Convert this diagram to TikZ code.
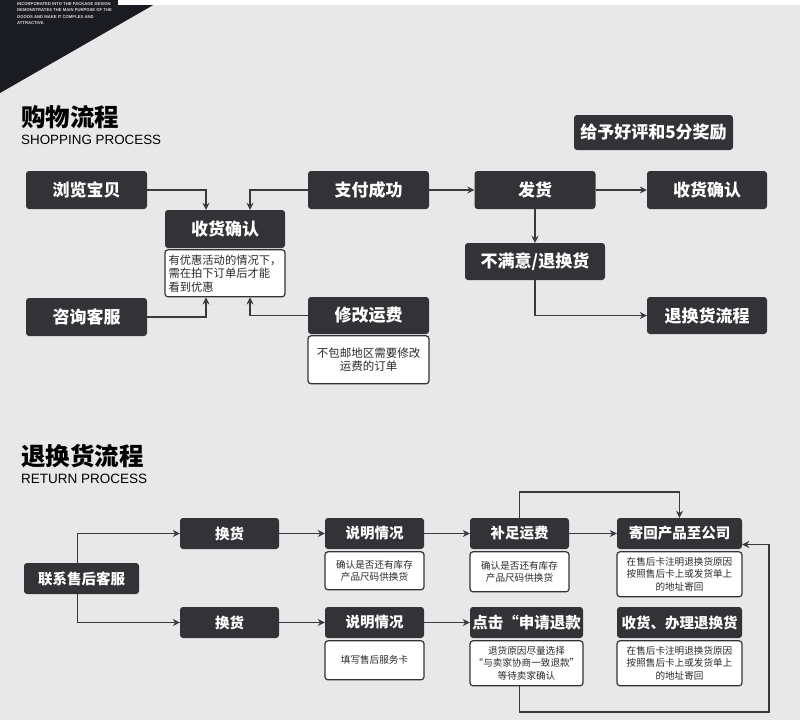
\documentclass[tikz,border=0pt]{standalone}
\usepackage{fontspec}
\setmainfont{Liberation Sans}
\newfontfamily\cjk{Noto Sans CJK SC}
\usepackage{tikz}
\usetikzlibrary{arrows.meta,positioning,calc}
\definecolor{boxc}{HTML}{333337}
\definecolor{linec}{HTML}{3A3A3E}
\definecolor{bgc}{HTML}{E8E8E8}
\definecolor{cornerc}{HTML}{1B1B22}
\definecolor{txtc}{HTML}{2A2A2A}

\begin{document}
\begin{tikzpicture}[x=1pt, y=-1pt,
  dark/.style={fill=boxc, text=white, rounded corners=3pt, inner sep=0pt},
  big/.style={dark, minimum width=121pt, minimum height=38pt,
              font=\cjk\bfseries\fontsize{17}{20}\selectfont},
  small/.style={dark, minimum width=99pt, minimum height=31pt,
                font=\cjk\bfseries\fontsize{14.5}{17}\selectfont},
  note/.style={draw=boxc, line width=1.2pt, fill=white, rounded corners=3pt,
               inner sep=0pt, text=txtc, align=center},
  smallnote/.style={note, font=\cjk\fontsize{9.6}{12.5}\selectfont},
  arr/.style={-{Stealth[length=7pt,width=7pt]}, line width=1.4pt, draw=linec},
  title/.style={anchor=base west, inner sep=0pt, text=black}]
\useasboundingbox (0,0) rectangle (800,726);
\fill[bgc] (0,0) rectangle (800,726);
\fill[cornerc] (0,0) -- (162,0) -- (0,93) -- cycle;
\fill[white] (118,0) rectangle (800,5);
\fill[white] (0,720) rectangle (800,726);
\node[anchor=north west, inner sep=0pt, align=left, text=white!85!black,
      font=\bfseries\fontsize{4.2}{6.6}\selectfont] (corner) at (17,2)
  {INCORPORATED INTO THE PACKAGE DESIGN\\DEMONSTRATES THE MAIN PURPOSE OF THE\\
   GOODS AND MAKE IT COMPLEX AND\\ATTRACTIVE.};

% shopping process
\node[title, font=\cjk\bfseries\fontsize{24.5}{26}\selectfont] (shoptitle)
  at (21,126) {购物流程};
\node[title, font=\fontsize{13.4}{15}\selectfont] (shopsub)
  at (21,144) {SHOPPING PROCESS};

\node[big] (browse) at (86.5,190) {浏览宝贝};
\node[big, minimum width=120pt] (confirm) at (225,229) {收货确认};
\node[note, below=1pt of confirm, minimum width=120pt, minimum height=47pt,
      align=left, font=\cjk\fontsize{11.3}{13.5}\selectfont] (confnote)
  {有优惠活动的情况下，\\需在拍下订单后才能\\看到优惠};
\node[big] (consult) at (86.5,317) {咨询客服};
\node[big] (pay) at (368.5,190) {支付成功};
\node[big] (ship) at (535,190) {发货};
\node[big, minimum width=120pt] (recv) at (707,190) {收货确认};
\node[big, minimum width=159pt, minimum height=35pt] (praise)
  at (653.5,132.5) {给予好评和5分奖励};
\node[big, minimum width=140pt, minimum height=37pt] (unhappy)
  at (535,261.5) {不满意/退换货};
\node[big, minimum width=120pt, minimum height=37pt] (retflow)
  at (707,315.5) {退换货流程};
\node[big, minimum height=37pt] (fee) at (368.5,315.5) {修改运费};
\node[note, below=1pt of fee, minimum width=121pt, minimum height=48pt,
      font=\cjk\fontsize{11.5}{13.5}\selectfont] (feenote)
  {不包邮地区需要修改\\运费的订单};

\draw[arr] (browse.east) -| ($(confirm.north)+(-19,0)$);
\draw[arr] (pay.west) -| ($(confirm.north)+(25,0)$);
\draw[arr] (consult.east) -| ($(confnote.south)+(-19,0)$);
\draw[arr] (fee.west) -| ($(confnote.south)+(25,0)$);
\draw[arr] (pay) -- (ship);
\draw[arr] (ship) -- (recv);
\draw[arr] (ship) -- (unhappy);
\draw[arr] (unhappy.south) |- (retflow.west);

% return process
\node[title, font=\cjk\bfseries\fontsize{24.5}{26}\selectfont] (rettitle)
  at (21,465) {退换货流程};
\node[title, font=\fontsize{13.5}{15}\selectfont] (retsub)
  at (21,483) {RETURN PROCESS};

\node[small, minimum width=115pt] (contact) at (81.5,578.5) {联系售后客服};
\node[small] (swapA) at (229.5,533.5) {换货};
\node[small] (explA) at (374.5,533.5) {说明情况};
\node[smallnote, below=2pt of explA, minimum width=99pt, minimum height=38pt]
  (explAnote) {确认是否还有库存\\产品尺码供换货};
\node[small] (fill) at (519.5,533.5) {补足运费};
\node[smallnote, below=2pt of fill, minimum width=99pt, minimum height=40pt]
  (fillnote) {确认是否还有库存\\产品尺码供换货};
\node[small, minimum width=125pt] (sendback) at (679.5,533.5) {寄回产品至公司};
\node[smallnote, below=2pt of sendback, minimum width=125pt, minimum height=45pt]
  (sendnote) {在售后卡注明退换货原因\\按照售后卡上或发货单上\\的地址寄回};
\node[small] (swapB) at (229.5,622.5) {换货};
\node[small] (explB) at (374.5,622.5) {说明情况};
\node[smallnote, below=2pt of explB, minimum width=99pt, minimum height=39pt]
  (explBnote) {填写售后服务卡};
\node[small, minimum width=113pt, font=\cjk\bfseries\fontsize{15.5}{17}\selectfont]
  (refund) at (526.5,622.5) {点击“申请退款};
\node[smallnote, below=2pt of refund, minimum width=113pt, minimum height=45pt]
  (refundnote) {退货原因尽量选择\\“与卖家协商一致退款”\\等待卖家确认};
\node[small, minimum width=125pt] (handle) at (679.5,622.5) {收货、办理退换货};
\node[smallnote, below=2pt of handle, minimum width=125pt, minimum height=45pt]
  (handlenote) {在售后卡注明退换货原因\\按照售后卡上或发货单上\\的地址寄回};
\coordinate (loopcorner) at (769,712);

\draw[arr] ($(contact.north)+(-4,0)$) |- (swapA.west);
\draw[arr] ($(contact.south)+(-4,0)$) |- (swapB.west);
\draw[arr] (swapA) -- (explA);
\draw[arr] (swapB) -- (explB);
\draw[arr] (explA) -- (fill);
\draw[arr] (explB) -- (refund);
\draw[arr] (fill) -- (sendback);
\draw[arr] (fill.north) -- ++(0,-26) -| (sendback.north);
\draw[arr] ($(refundnote.south)+(-7,0)$) |- (loopcorner)
  |- ($(sendback.east)+(0,11)$);
\end{tikzpicture}
\end{document}
